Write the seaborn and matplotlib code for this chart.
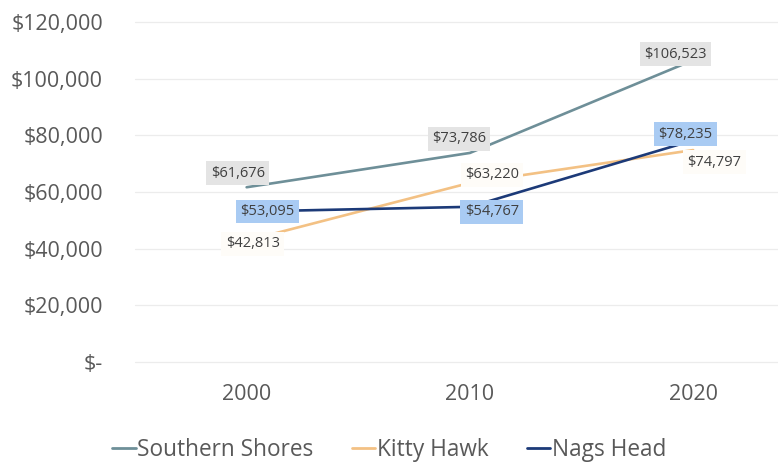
import matplotlib
matplotlib.use("Agg")
import matplotlib.pyplot as plt
import seaborn as sns
import pandas as pd

years = ["2000", "2010", "2020"]
southern_shores = [61676, 73786, 106523]
kitty_hawk = [42813, 63220, 74797]
nags_head = [53095, 54767, 78235]
series_names = ["Southern Shores", "Kitty Hawk", "Nags Head"]
y_ticks = [0, 20000, 40000, 60000, 80000, 100000, 120000]

colors = {"Southern Shores": "#6e8f98", "Kitty Hawk": "#f3c184", "Nags Head": "#1c3a78"}
box_colors = {"Southern Shores": "#e4e4e4", "Kitty Hawk": "#fefcf8", "Nags Head": "#a9cbf3"}
# label offsets in pixels (dx, dy)
offsets = {
    "Southern Shores": [(-9, 14), (-11, 14), (-18, 6)],
    "Kitty Hawk": [(6, -3), (22, 8), (21, -12)],
    "Nags Head": [(21, 0), (22, -5), (-8, 6)],
}

df = pd.DataFrame({
    "year": years * 3,
    "value": southern_shores + kitty_hawk + nags_head,
    "series": [s for s in series_names for _ in years],
})

sns.set_theme(style="white")
plt.rcParams["font.family"] = ["Open Sans", "DejaVu Sans"]

fig = plt.figure(figsize=(7.78, 4.63), dpi=100)
ax = fig.add_axes([135 / 778, (463 - 362) / 463, 1 - 135 / 778, (362 - 22) / 463])

sns.lineplot(data=df, x="year", y="value", hue="series", hue_order=series_names,
             palette=colors, sort=False, linewidth=1.9, ax=ax, legend=False)

ax.set_xlim(-0.5, 2.38)
ax.set_ylim(0, 120000)
ax.set_yticks(y_ticks)
ax.set_yticklabels(["$-" if v == 0 else f"${v:,.0f}" for v in y_ticks])
for y in y_ticks:
    ax.axhline(y, color="#ececec", linewidth=0.9, zorder=0, clip_on=False)
ax.grid(False)
for s in ax.spines.values():
    s.set_visible(False)
ax.tick_params(axis="y", length=0, pad=23, labelsize=15.5, labelcolor="#595959")
ax.tick_params(axis="x", length=0, pad=16, labelsize=15.5, labelcolor="#595959")
ax.set_xlabel("")
ax.set_ylabel("")

data = {"Southern Shores": southern_shores, "Kitty Hawk": kitty_hawk, "Nags Head": nags_head}
for name in series_names:
    for i, v in enumerate(data[name]):
        dx, dy = offsets[name][i]
        ax.annotate(f"${v:,.0f}", xy=(i, v), xytext=(dx, dy), textcoords="offset pixels",
                    ha="center", va="center", fontsize=10.5, color="#404040", zorder=5,
                    bbox=dict(boxstyle="square,pad=0.3", fc=box_colors[name], ec="none"))

handles = [plt.Line2D([], [], color=colors[n], linewidth=2) for n in series_names]
fig.legend(handles, series_names, loc="center", bbox_to_anchor=(0.5, 0.028), ncol=3,
           frameon=False, fontsize=16.3, handlelength=1.05, handletextpad=0.05,
           columnspacing=1.7, labelcolor="#595959")

fig.savefig("out.png", dpi=100)
